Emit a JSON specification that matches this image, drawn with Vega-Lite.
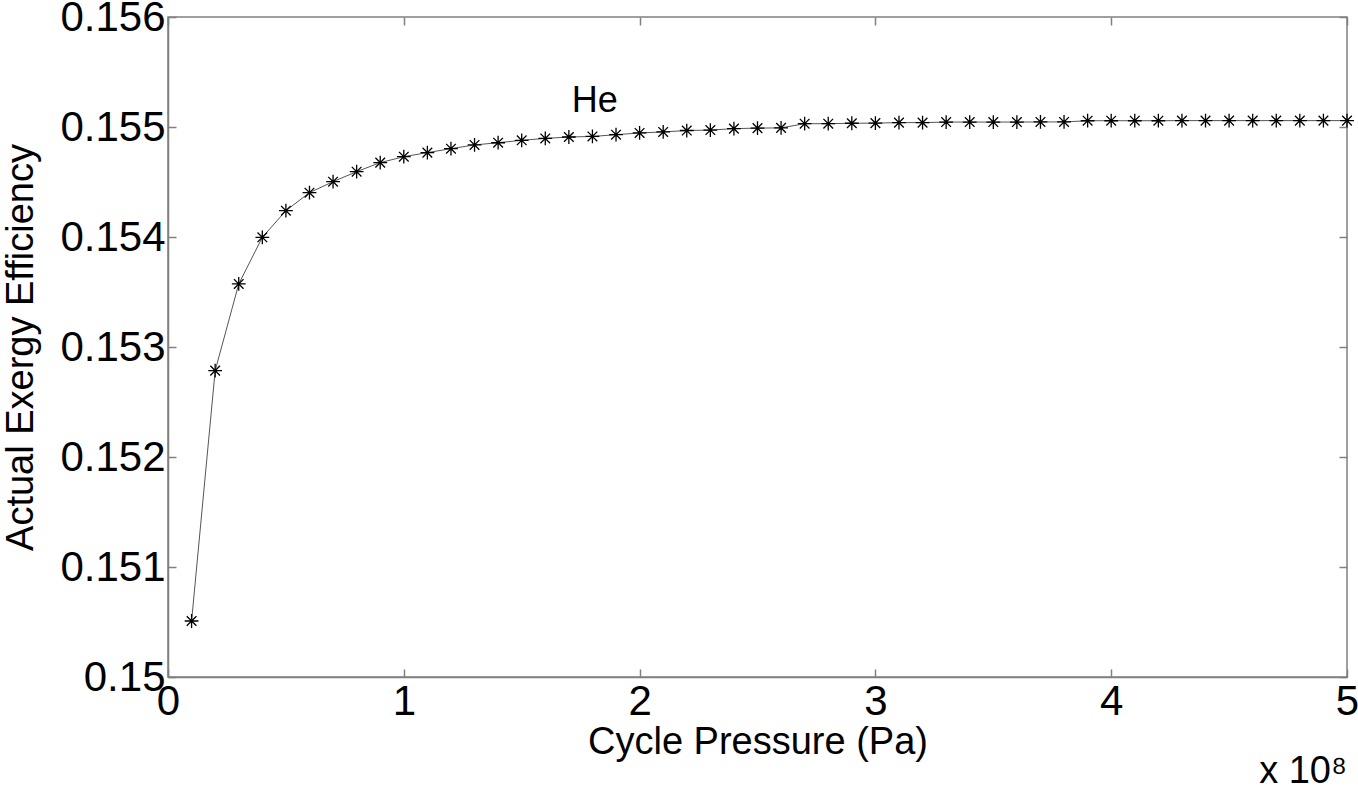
{
  "$schema": "https://vega.github.io/schema/vega-lite/v6.json",
  "width": 1179,
  "height": 660,
  "autosize": {"type": "none"},
  "padding": {"left": 168, "top": 17, "right": 11, "bottom": 117},
  "background": "white",
  "config": {
    "view": {"stroke": "#808080", "strokeWidth": 1.5},
    "font": "Liberation Sans",
    "axis": {
      "grid": false,
      "domainColor": "#808080",
      "domainWidth": 1.5,
      "tickColor": "#808080",
      "tickWidth": 1.5,
      "labelColor": "black",
      "titleColor": "black",
      "labelFont": "Liberation Sans",
      "titleFont": "Liberation Sans",
      "titleFontWeight": "normal"
    }
  },
  "title": {
    "text": "x 10⁸",
    "orient": "bottom",
    "anchor": "end",
    "frame": "group",
    "fontSize": 38,
    "fontWeight": "normal",
    "font": "Liberation Sans",
    "color": "black",
    "offset": -8
  },
  "datasets": {
    "he": [
      {"pressure": 10000000, "eff": 0.150509},
      {"pressure": 20000000, "eff": 0.152785},
      {"pressure": 30000000, "eff": 0.153573},
      {"pressure": 40000000, "eff": 0.153997},
      {"pressure": 50000000, "eff": 0.154239},
      {"pressure": 60000000, "eff": 0.154403},
      {"pressure": 70000000, "eff": 0.154503},
      {"pressure": 80000000, "eff": 0.154594},
      {"pressure": 90000000, "eff": 0.154676},
      {"pressure": 100000000, "eff": 0.15473},
      {"pressure": 110000000, "eff": 0.154767},
      {"pressure": 120000000, "eff": 0.154803},
      {"pressure": 130000000, "eff": 0.154837},
      {"pressure": 140000000, "eff": 0.154857},
      {"pressure": 150000000, "eff": 0.154879},
      {"pressure": 160000000, "eff": 0.154896},
      {"pressure": 170000000, "eff": 0.154909},
      {"pressure": 180000000, "eff": 0.154914},
      {"pressure": 190000000, "eff": 0.15493},
      {"pressure": 200000000, "eff": 0.154946},
      {"pressure": 210000000, "eff": 0.154955},
      {"pressure": 220000000, "eff": 0.154968},
      {"pressure": 230000000, "eff": 0.154972},
      {"pressure": 240000000, "eff": 0.154985},
      {"pressure": 250000000, "eff": 0.15499},
      {"pressure": 260000000, "eff": 0.154992},
      {"pressure": 270000000, "eff": 0.15503},
      {"pressure": 280000000, "eff": 0.15503},
      {"pressure": 290000000, "eff": 0.155034},
      {"pressure": 300000000, "eff": 0.155035},
      {"pressure": 310000000, "eff": 0.15504},
      {"pressure": 320000000, "eff": 0.15504},
      {"pressure": 330000000, "eff": 0.155045},
      {"pressure": 340000000, "eff": 0.155045},
      {"pressure": 350000000, "eff": 0.155045},
      {"pressure": 360000000, "eff": 0.155045},
      {"pressure": 370000000, "eff": 0.155046},
      {"pressure": 380000000, "eff": 0.155046},
      {"pressure": 390000000, "eff": 0.155057},
      {"pressure": 400000000, "eff": 0.155057},
      {"pressure": 410000000, "eff": 0.155057},
      {"pressure": 420000000, "eff": 0.155057},
      {"pressure": 430000000, "eff": 0.155058},
      {"pressure": 440000000, "eff": 0.155058},
      {"pressure": 450000000, "eff": 0.155058},
      {"pressure": 460000000, "eff": 0.155058},
      {"pressure": 470000000, "eff": 0.155058},
      {"pressure": 480000000, "eff": 0.155058},
      {"pressure": 490000000, "eff": 0.155058},
      {"pressure": 500000000, "eff": 0.155058}
    ],
    "labels": [
      {"pressure": 181000000, "eff": 0.155139, "label": "He"}
    ]
  },
  "layer": [
    {
      "data": {"name": "he"},
      "mark": {"type": "line", "color": "#555555", "strokeWidth": 1},
      "encoding": {
        "x": {
          "field": "pressure",
          "type": "quantitative",
          "scale": {"domain": [0, 500000000], "nice": false, "zero": false},
          "axis": {
            "orient": "bottom",
            "title": "Cycle Pressure (Pa)",
            "titleFontSize": 38,
            "titlePadding": 1,
            "values": [0, 100000000, 200000000, 300000000, 400000000, 500000000],
            "labelExpr": "format(round(datum.value / 100000000), 'd')",
            "labelFontSize": 42,
            "labelPadding": 12,
            "labelFlush": false,
            "labelOverlap": false,
            "tickSize": -8
          }
        },
        "y": {
          "field": "eff",
          "type": "quantitative",
          "scale": {"domain": [0.15, 0.156], "nice": false, "zero": false},
          "axis": {
            "orient": "left",
            "title": "Actual Exergy Efficiency",
            "titleFontSize": 38,
            "titlePadding": 19,
            "values": [0.15, 0.151, 0.152, 0.153, 0.154, 0.155, 0.156],
            "format": "~g",
            "labelFontSize": 42,
            "labelPadding": 11,
            "labelFlush": false,
            "labelOverlap": false,
            "tickSize": -8
          }
        }
      }
    },
    {
      "data": {"name": "he"},
      "mark": {
        "type": "point",
        "shape": "M-1,0L1,0M0,-1L0,1M-0.7,-0.7L0.7,0.7M-0.7,0.7L0.7,-0.7",
        "filled": false,
        "stroke": "black",
        "strokeWidth": 1.3,
        "size": 190,
        "opacity": 1
      },
      "encoding": {
        "x": {
          "field": "pressure",
          "type": "quantitative",
          "scale": {"domain": [0, 500000000], "nice": false, "zero": false},
          "axis": {
            "orient": "top",
            "title": null,
            "labels": false,
            "values": [0, 100000000, 200000000, 300000000, 400000000, 500000000],
            "tickSize": -8,
            "domain": false
          }
        },
        "y": {
          "field": "eff",
          "type": "quantitative",
          "scale": {"domain": [0.15, 0.156], "nice": false, "zero": false},
          "axis": {
            "orient": "right",
            "title": null,
            "labels": false,
            "values": [0.15, 0.151, 0.152, 0.153, 0.154, 0.155, 0.156],
            "tickSize": -8,
            "domain": false
          }
        }
      }
    },
    {
      "data": {"name": "labels"},
      "mark": {"type": "text", "fontSize": 36, "font": "Liberation Sans", "color": "black", "align": "center", "baseline": "alphabetic"},
      "encoding": {
        "x": {"field": "pressure", "type": "quantitative", "axis": null},
        "y": {"field": "eff", "type": "quantitative", "axis": null},
        "text": {"field": "label"}
      }
    }
  ],
  "resolve": {"axis": {"x": "independent", "y": "independent"}}
}
